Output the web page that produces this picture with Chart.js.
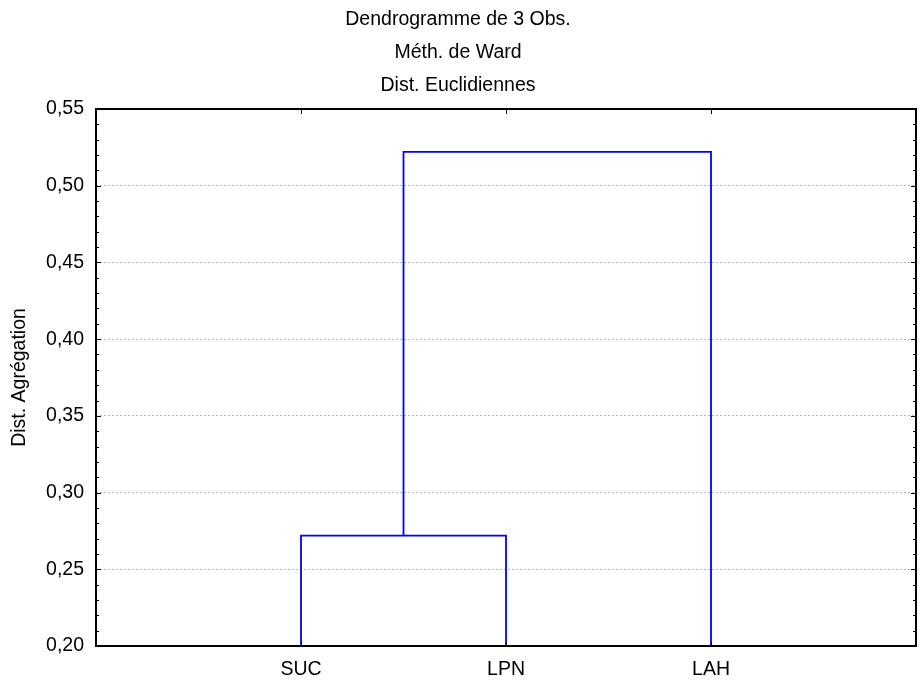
<!DOCTYPE html>
<html>
<head>
<meta charset="utf-8">
<script src="https://cdn.jsdelivr.net/npm/chart.js@4"></script>
<style>
  html, body { margin: 0; padding: 0; background: #ffffff; }
  #wrap { width: 923px; height: 682px; }
</style>
</head>
<body>
<div id="wrap"><canvas id="c" width="923" height="682"></canvas></div>
<script>
// ---- Data ----
const titleLines = ['Dendrogramme de 3 Obs.', 'Méth. de Ward', 'Dist. Euclidiennes'];
const categories = ['SUC', 'LPN', 'LAH'];
// merges: [left member, right member, height]; members: leaf index (0..2) or 'c' + merge index
const mergeLeft = [0, 'c0'];
const mergeRight = [1, 2];
const mergeHeights = [0.272, 0.522];
const yMin = 0.20, yMax = 0.55, yStep = 0.05;
const yAxisTitle = 'Dist. Agrégation';

// ---- Build dendrogram polylines from the merge table ----
function memberPos(m) {
  if (typeof m === 'number') return { x: m + 1, y: yMin };
  const i = parseInt(m.slice(1), 10);
  return { x: (memberPos(mergeLeft[i]).x + memberPos(mergeRight[i]).x) / 2, y: mergeHeights[i] };
}
const datasets = mergeHeights.map((h, i) => {
  const a = memberPos(mergeLeft[i]);
  const b = memberPos(mergeRight[i]);
  return {
    data: [{ x: a.x, y: a.y }, { x: a.x, y: h }, { x: b.x, y: h }, { x: b.x, y: b.y }],
    borderColor: '#0000ff',
    borderWidth: 1.8,
    pointRadius: 0,
    showLine: true,
    fill: false,
    tension: 0
  };
});

const FONT = "'Liberation Sans', Arial, sans-serif";
const FS = 19.5;

const framePlugin = {
  id: 'frame',
  afterDatasetsDraw(chart) {
    const { ctx, chartArea: a, scales } = chart;
    const ys = scales.y, xs = scales.x;
    ctx.save();
    ctx.strokeStyle = '#000000';
    ctx.lineWidth = 1;
    const n = Math.round((yMax - yMin) / 0.01);
    ctx.beginPath();
    for (let i = 1; i < n; i++) {
      const v = yMin + i * 0.01;
      const py = Math.round(ys.getPixelForValue(v)) + 0.5;
      const major = i % 5 === 0;
      const len = major ? 5 : 3;
      ctx.moveTo(a.left, py); ctx.lineTo(a.left + len, py);
      ctx.moveTo(a.right, py); ctx.lineTo(a.right - len, py);
    }
    for (let k = 1; k <= categories.length; k++) {
      const px = Math.round(xs.getPixelForValue(k)) + 0.5;
      ctx.moveTo(px, a.top); ctx.lineTo(px, a.top + 5);
      ctx.moveTo(px, a.bottom); ctx.lineTo(px, a.bottom - 4);
    }
    ctx.stroke();
    ctx.lineWidth = 2;
    ctx.strokeRect(a.left, a.top, a.right - a.left, a.bottom - a.top);
    ctx.restore();
  }
};

new Chart(document.getElementById('c'), {
  type: 'scatter',
  data: { datasets },
  plugins: [framePlugin],
  options: {
    responsive: false,
    animation: false,
    devicePixelRatio: 1,
    layout: { padding: { left: 0, right: 7, top: 0, bottom: 0 } },
    plugins: {
      legend: { display: false },
      tooltip: { enabled: false },
      title: {
        display: true,
        text: titleLines,
        color: '#000000',
        font: { family: FONT, size: FS, weight: 'normal', lineHeight: '33px' },
        padding: { top: 3, bottom: 7 }
      }
    },
    scales: {
      x: {
        type: 'linear',
        min: 0,
        max: categories.length + 1,
        afterBuildTicks(scale) {
          scale.ticks = categories.map((_, i) => ({ value: i + 1 }));
        },
        ticks: {
          autoSkip: false,
          maxRotation: 0,
          padding: 12,
          color: '#000000',
          font: { family: FONT, size: FS },
          callback: (v) => categories[Math.round(v) - 1] || ''
        },
        grid: { display: false, drawTicks: false },
        border: { display: false },
        afterFit(scale) { scale.height = 36; }
      },
      y: {
        type: 'linear',
        min: yMin,
        max: yMax,
        ticks: {
          stepSize: yStep,
          padding: 12,
          color: '#000000',
          font: { family: FONT, size: FS },
          callback: (v) => Number(v).toFixed(2).replace('.', ',')
        },
        grid: {
          drawTicks: false,
          color: '#b8b8b8',
          lineWidth: 1
        },
        border: { display: false, dash: [2, 2] },
        title: {
          display: true,
          text: yAxisTitle,
          color: '#000000',
          font: { family: FONT, size: FS },
          padding: { top: 8, bottom: 0 }
        },
        afterFit(scale) { scale.width = 96; }
      }
    }
  }
});
</script>
</body>
</html>
